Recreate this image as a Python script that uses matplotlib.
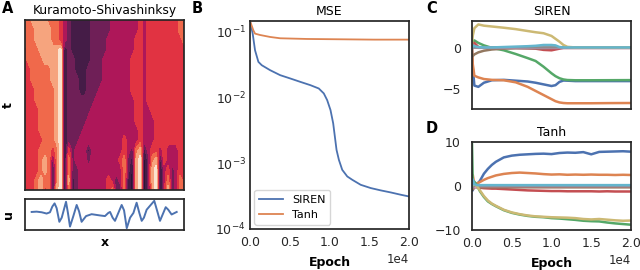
import numpy as np
import matplotlib
matplotlib.use("Agg")
import matplotlib.pyplot as plt
from matplotlib.colors import ListedColormap
from matplotlib.ticker import NullLocator

deep = ['#4C72B0', '#DD8452', '#55A868', '#C44E52', '#8172B3',
        '#937860', '#DA8BC3', '#8C8C8C', '#CCB974', '#64B5CD']

# ---- panel A: Kuramoto-Sivashinsky field, level codes (rows = t, top to bottom)
ks_rows = [
    "5566665554" "3211111222" "2233333334" "34444444455",
    "5556666554" "3211111222" "2233333334" "34444444455",
    "5556666554" "3211111222" "2333333344" "34444444445",
    "4555666667" "0211111222" "2333333344" "34444444444",
    "4555566667" "0221111222" "3333333444" "34444444444",
    "4455555667" "0221112222" "3333333444" "34444444444",
    "4455555667" "0222112222" "3333333444" "34444444444",
    "4445555567" "0222112223" "3333333444" "34444444444",
    "4445555567" "0222222233" "3333333344" "34444444444",
    "4444555567" "0222222333" "3333333344" "33444444444",
    "4444555567" "0222223333" "3333333344" "33344444444",
    "4444555567" "0222233333" "3333333334" "33344444444",
    "4444455567" "0222333333" "3333343334" "33344444444",
    "4444555457" "0423331333" "3333343256" "13443433344",
    "4444565257" "0523332333" "3333452167" "02561433344",
    "4444565157" "0522333333" "3333352067" "02670342344",
    "4445655157" "0612333333" "3432351067" "02670352354",
    "4445645167" "0512333333" "3452251067" "02570362354",
]
ks_colors = ['#2a1636', '#451c47', '#6f1f57', '#ae1759',
             '#e13342', '#f0694b', '#f6a47e', '#fbe3cf']

# u(x) at the last time slice
u_x = [0.042, 0.073, 0.105, 0.136, 0.157, 0.172, 0.186, 0.199, 0.216, 0.231,
       0.258, 0.270, 0.283, 0.304, 0.325, 0.340, 0.356, 0.384, 0.419, 0.472,
       0.503, 0.524, 0.535, 0.551, 0.566, 0.587, 0.608, 0.623, 0.640, 0.661,
       0.682, 0.702, 0.719, 0.734, 0.748, 0.765, 0.782, 0.813, 0.832, 0.849,
       0.870, 0.885, 0.901, 0.922, 0.954]
u_val = [0.32, 0.36, 0.28, 0.12, 0.28, 1.0, 1.4, 0.8, -0.92, -0.4,
         1.6, 0.2, -1.52, -0.2, 1.2, 0.4, -0.92, -0.2, 0.04, -0.12,
         -0.2, 0.2, 0.32, -0.4, -0.8, 0.2, 1.2, 0.52, -1.72, -0.4,
         0.2, 1.48, 0.2, -0.8, -0.4, 0.6, 1.0, 1.72, 0.4, -0.8,
         0.2, 0.92, 0.6, 0.0, 0.32]

# ---- panel B: MSE
siren_ep = [0, 338, 633, 1055, 1477, 2532, 3797, 5063, 6329, 7595, 8650, 9283,
            9705, 10127, 10464, 10675, 10886, 11181, 11603, 12236, 12869,
            13924, 15190, 16456, 17722, 18987, 20000]
siren_mse = [0.147, 0.0944, 0.0527, 0.0351, 0.0312, 0.0262, 0.0220, 0.0196,
             0.0174, 0.0155, 0.0138, 0.0116, 0.00918, 0.00647, 0.00406,
             0.00255, 0.0016, 0.00113, 0.000796, 0.000631, 0.000561,
             0.000471, 0.00042, 0.000387, 0.00036, 0.000332, 0.000313]
tanh_ep = [0, 422, 633, 1266, 2532, 3797, 7173, 11392, 15612, 20000]
tanh_mse = [0.147, 0.106, 0.0944, 0.090, 0.084, 0.0802, 0.0783, 0.0774, 0.0765, 0.0765]

# ---- panel C: SIREN weights
c_ep = [0, 100, 300, 800, 1500, 2500, 4000, 5500, 7000, 8000, 9000, 10000,
        10500, 11000, 11500, 12000, 13000, 15000, 17500, 20000]
c_w = {
    'blue':   [0.0, -2.5, -4.6, -4.75, -4.25, -3.95, -3.9, -4.0, -4.1, -4.25, -4.45, -4.65,
               -4.55, -4.15, -3.98, -4.0, -4.05, -4.05, -4.05, -4.05],
    'orange': [0.3, -2.0, -3.4, -3.6, -3.8, -3.9, -3.95, -4.2, -4.75, -5.25, -5.75, -6.25,
               -6.5, -6.65, -6.72, -6.75, -6.75, -6.75, -6.73, -6.72],
    'green':  [0.2, 0.8, 0.9, 0.6, 0.3, 0.0, -0.3, -0.75, -1.25, -1.6, -2.3, -3.1,
               -3.45, -3.7, -3.85, -3.92, -3.95, -3.95, -3.94, -3.93],
    'red':    [0.0, 0.5, 0.6, 0.1, 0.0, 0.0, 0.0, 0.0, -0.05, -0.1, -0.25, -0.3,
               -0.2, -0.1, 0.0, 0.0, 0.0, 0.0, 0.0, 0.0],
    'purple': [0.0, 0.2, 0.1, 0.05, 0.0, 0.0, 0.0, 0.0, 0.0, 0.0, 0.0, 0.0,
               0.0, 0.0, 0.0, 0.0, 0.0, 0.0, 0.0, 0.0],
    'brown':  [-1.0, -1.0, -0.8, -0.55, -0.35, -0.2, -0.1, -0.05, -0.05, -0.05, -0.05, 0.0,
               0.0, 0.0, 0.0, 0.0, 0.0, 0.0, 0.0, 0.0],
    'pink':   [0.0, 0.1, 0.05, 0.0, 0.0, 0.0, 0.0, 0.0, 0.0, 0.0, 0.0, 0.0,
               0.0, 0.0, 0.0, 0.0, 0.0, 0.0, 0.0, 0.0],
    'gray':   [0.0, 0.0, 0.05, 0.05, 0.05, 0.05, 0.05, 0.05, 0.05, 0.05, 0.05, 0.05,
               0.05, 0.05, 0.05, 0.05, 0.05, 0.05, 0.05, 0.05],
    'olive':  [0.5, 1.5, 2.4, 2.85, 2.7, 2.6, 2.45, 2.28, 2.05, 1.9, 1.78, 1.45,
               1.1, 0.75, 0.35, 0.12, 0.05, 0.05, 0.05, 0.05],
    'cyan':   [0.0, 0.3, 0.2, 0.1, 0.05, 0.05, 0.1, 0.15, 0.2, 0.25, 0.35, 0.35,
               0.3, 0.1, 0.05, 0.05, 0.05, 0.05, 0.05, 0.05],
}

# ---- panel D: Tanh weights
d_ep = [0, 100, 300, 600, 1000, 1500, 2000, 2500, 3000, 4000, 5000, 6000, 7000,
        8000, 9000, 10000, 11000, 12000, 13000, 14000, 15000, 16000, 17000,
        18000, 19000, 20000]
d_w = {
    'blue':   [0.0, -1.0, 0.5, 0.3, 1.2, 2.8, 3.9, 4.8, 5.5, 6.5, 6.9, 7.1, 7.2,
               7.3, 7.35, 7.25, 7.5, 7.6, 7.55, 7.7, 7.2, 7.75, 7.8, 7.85, 7.9, 7.8],
    'orange': [0.0, 2.5, 0.3, 0.6, 0.9, 1.4, 1.8, 2.1, 2.4, 2.75, 2.95, 3.05, 2.95,
               2.85, 2.7, 2.6, 2.65, 2.55, 2.6, 2.55, 2.6, 2.55, 2.55, 2.5, 2.55, 2.5],
    'green':  [9.5, 0.5, 1.0, 0.2, -1.2, -2.5, -3.5, -4.1, -4.6, -5.5, -6.1, -6.5, -6.8,
               -7.0, -7.1, -7.3, -7.4, -7.55, -7.7, -7.9, -8.0, -8.05, -8.3, -8.5, -8.65, -8.8],
    'red':    [0.0, 0.8, 0.2, -0.2, -0.4, -0.5, -0.55, -0.6, -0.6, -0.7, -0.8, -0.9, -1.0,
               -1.05, -1.1, -1.15, -1.15, -1.2, -1.2, -1.2, -1.2, -1.25, -1.2, -1.25, -1.25, -1.25],
    'purple': [0.0, -0.5, 0.2, 0.0, 0.0, 0.0, 0.0, 0.0, 0.0, 0.0, 0.0, 0.0, 0.0,
               0.0, 0.0, 0.0, 0.0, 0.0, 0.0, 0.0, 0.0, 0.0, 0.0, 0.0, 0.0, 0.0],
    'brown':  [0.0, -0.8, -0.3, -0.3, -0.3, -0.3, -0.3, -0.3, -0.3, -0.3, -0.3, -0.3, -0.3,
               -0.3, -0.3, -0.3, -0.3, -0.3, -0.3, -0.3, -0.3, -0.3, -0.3, -0.3, -0.3, -0.3],
    'pink':   [0.0, 0.5, -0.3, 0.0, 0.0, 0.0, 0.0, 0.0, 0.0, 0.0, 0.0, 0.0, 0.0,
               0.0, 0.0, 0.0, 0.0, 0.0, 0.0, 0.0, 0.0, 0.0, 0.0, 0.0, 0.0, 0.0],
    'gray':   [0.0, -0.3, 0.1, 0.1, 0.1, 0.1, 0.1, 0.1, 0.1, 0.1, 0.1, 0.1, 0.1,
               0.1, 0.1, 0.1, 0.1, 0.1, 0.1, 0.1, 0.1, 0.1, 0.1, 0.1, 0.1, 0.1],
    'olive':  [0.0, 0.5, 0.3, 0.0, -1.0, -2.3, -3.3, -4.0, -4.5, -5.4, -6.0, -6.4, -6.7,
               -6.9, -7.0, -7.1, -7.15, -7.2, -7.3, -7.5, -7.6, -7.5, -7.65, -7.8, -7.9, -7.85],
    'cyan':   [0.0, 1.5, 0.4, 0.2, 0.2, 0.2, 0.2, 0.2, 0.2, 0.2, 0.2, 0.2, 0.2,
               0.2, 0.2, 0.2, 0.2, 0.2, 0.2, 0.2, 0.2, 0.2, 0.2, 0.2, 0.2, 0.2],
}
names = ['blue', 'orange', 'green', 'red', 'purple', 'brown', 'pink', 'gray', 'olive', 'cyan']

plt.rcParams['font.family'] = 'DejaVu Sans'
plt.rcParams['axes.edgecolor'] = '#262626'
plt.rcParams['axes.linewidth'] = 1.25
plt.rcParams['xtick.color'] = '#262626'
plt.rcParams['ytick.color'] = '#262626'

fig = plt.figure(figsize=(6.4, 2.7), dpi=100)

def px(l, t, r, b):
    return [l / 640, 1 - b / 270, (r - l) / 640, (b - t) / 270]

# A heatmap
axA = fig.add_axes(px(25, 20, 184, 190))
grid = np.array([[int(ch) for ch in row] for row in ks_rows])
axA.contourf(np.arange(grid.shape[1]), np.arange(grid.shape[0]), grid,
             levels=np.arange(-0.5, 8.0, 1.0), cmap=ListedColormap(ks_colors))
axA.set_xlim(0, grid.shape[1] - 1)
axA.set_ylim(grid.shape[0] - 1, 0)
axA.set_xticks([])
axA.set_yticks([])
axA.set_ylabel('t', fontsize=9, fontweight='bold', labelpad=7)
axA.set_title('Kuramoto-Shivashinksy', fontsize=8.8, pad=4)

axU = fig.add_axes(px(25, 199, 184, 230))
axU.plot(u_x, u_val, color=deep[0], lw=1.4)
axU.set_xlim(0, 1)
axU.set_ylim(-1.95, 1.95)
axU.set_xticks([])
axU.set_yticks([])
axU.set_ylabel('u', fontsize=9, fontweight='bold', labelpad=7)
axU.set_xlabel('x', fontsize=9, fontweight='bold', labelpad=4)

# B
axB = fig.add_axes(px(250, 21, 409, 229))
axB.plot(siren_ep, siren_mse, color=deep[0], lw=1.3, label='SIREN')
axB.plot(tanh_ep, tanh_mse, color=deep[1], lw=1.3, label='Tanh')
axB.set_yscale('log')
axB.set_ylim(1e-4, 0.147)
axB.set_xlim(0, 2e4)
axB.set_yticks([1e-4, 1e-3, 1e-2, 1e-1])
axB.yaxis.set_minor_locator(NullLocator())
axB.set_xticks([0, 5000, 10000, 15000, 20000])
axB.ticklabel_format(axis='x', style='sci', scilimits=(0, 0))
axB.set_title('MSE', fontsize=9, pad=4)
axB.set_xlabel('Epoch', fontsize=9, fontweight='bold', labelpad=5)
axB.legend(loc='lower left', fontsize=8, frameon=True, edgecolor='0.8',
           borderaxespad=0.4, handlelength=2.2)

# C
axC = fig.add_axes(px(472, 21, 631, 109))
for i, n in enumerate(names):
    axC.plot(c_ep, c_w[n], color=deep[i], lw=1.8)
axC.set_xlim(0, 2e4)
axC.set_ylim(-7.45, 3.27)
axC.set_xticks([])
axC.set_yticks([-5, 0])
axC.set_title('SIREN', fontsize=9, pad=4)

# D
axD = fig.add_axes(px(472, 142, 631, 230))
for i, n in enumerate(names):
    axD.plot(d_ep, d_w[n], color=deep[i], lw=1.8)
axD.set_xlim(0, 2e4)
axD.set_ylim(-10, 10)
axD.set_yticks([-10, 0, 10])
axD.set_xticks([0, 5000, 10000, 15000, 20000])
axD.ticklabel_format(axis='x', style='sci', scilimits=(0, 0))
axD.set_title('Tanh', fontsize=9, pad=4)
axD.set_xlabel('Epoch', fontsize=9, fontweight='bold', labelpad=5)

for ax in (axB, axC, axD):
    ax.tick_params(length=0, labelsize=9)
    ax.tick_params(axis='x', pad=5)
    ax.xaxis.get_offset_text().set_fontsize(8.5)
axB.tick_params(axis='y', pad=3)
axC.tick_params(axis='y', pad=8)
axD.tick_params(axis='y', pad=8)

for letter, x, y in [('A', 2, 1), ('B', 192, 1), ('C', 426, 1), ('D', 426, 121)]:
    fig.text(x / 640, 1 - y / 270, letter, fontsize=10.5, fontweight='bold',
             va='top', ha='left')

fig.savefig('out.png', dpi=100)
